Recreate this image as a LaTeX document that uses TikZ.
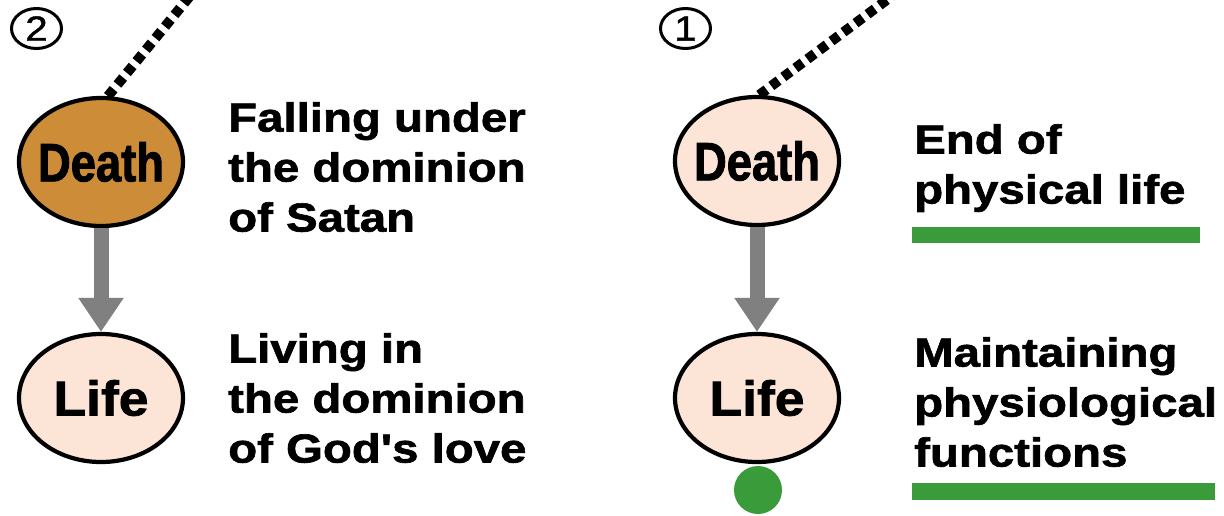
\documentclass[tikz,border=0pt]{standalone}
\usepackage{fontspec}
\usepackage{graphicx}
\usetikzlibrary{shapes.geometric,arrows.meta}
\setmainfont{Liberation Sans}
\newfontfamily\bodyfont{Liberation Sans Bold}[FakeStretch=1.17,FakeBold=1.6]
\newfontfamily\deathfont{Liberation Sans Bold}[FakeStretch=0.84,FakeBold=1.6]
\newfontfamily\lifefont{Liberation Sans Bold}[FakeStretch=1.09,FakeBold=1.6]
\newfontfamily\numfont{Liberation Sans}[FakeStretch=1.15,FakeBold=1.2]
\definecolor{peach}{RGB}{252,228,214}
\definecolor{brownc}{RGB}{204,140,56}
\definecolor{arrowgray}{RGB}{128,128,128}
\definecolor{greenc}{RGB}{57,155,58}
\tikzset{
  oval/.style={ellipse, draw=black, line width=4.2pt, minimum width=164pt, minimum height=128pt, inner sep=0pt},
  dotline/.style={draw=black, line width=10pt, dash pattern=on 9pt off 6pt},
  downarrow/.style={draw=arrowgray, line width=15pt, -{Triangle[width=43pt,length=34pt]}},
  numcirc/.style={ellipse, draw=black, line width=3pt, minimum width=50pt, minimum height=40pt, inner sep=0pt, font=\numfont\fontsize{35}{35}\selectfont},
  bodytext/.style={anchor=north west, inner sep=0pt, align=left, font=\bodyfont\fontsize{40.5}{50}\selectfont},
  deathtext/.style={font=\deathfont\fontsize{54}{54}\selectfont},
  lifetext/.style={font=\lifefont\fontsize{49}{49}\selectfont},
  greenbar/.style={fill=greenc, draw=none}
}
\begin{document}
\begin{tikzpicture}[x=1pt,y=-1pt]
\useasboundingbox (0,0) rectangle (1224,515);
\clip (0,0) rectangle (1224,515);
\fill[white] (0,0) rectangle (1224,515);

% left column
\node[numcirc] (n2) at (36.5,28.5) {2};
\node[oval, fill=brownc, deathtext] (dl) at (101,162) {\makebox[0pt]{Death}};
\node[oval, fill=peach, lifetext] (ll) at (101,398) {\makebox[0pt]{Life}};
\coordinate (tl) at (190,-4);
\draw[dotline] (dl.84) -- (tl);
\draw[downarrow] (dl.south) -- (ll.north);
\node[bodytext] (txl1) at (228,102) {Falling under\\the dominion\\of Satan};
\node[bodytext] (txl2) at (228,333) {Living in\\the dominion\\of God's love};

% right column
\node[numcirc] (n1) at (685.5,28.5) {1};
\node[oval, fill=peach, deathtext] (dr) at (757,161) {\makebox[0pt]{Death}};
\node[oval, fill=peach, lifetext] (lr) at (757,398) {\makebox[0pt]{Life}};
\coordinate (tr) at (892,-4);
\draw[dotline] (dr.88) -- (tr);
\draw[downarrow] (dr.south) -- (lr.north);
\node[circle, fill=greenc, minimum size=48pt, inner sep=0pt] (gd) at (758,490) {};
\node[bodytext] (txr1) at (914,124) {End of\\physical life};
\node[bodytext] (txr2) at (914,337) {Maintaining\\physiological\\functions};
\fill[greenbar] (912,227) rectangle (1200,243);
\fill[greenbar] (912,483) rectangle (1215,500);
\end{tikzpicture}
\end{document}
